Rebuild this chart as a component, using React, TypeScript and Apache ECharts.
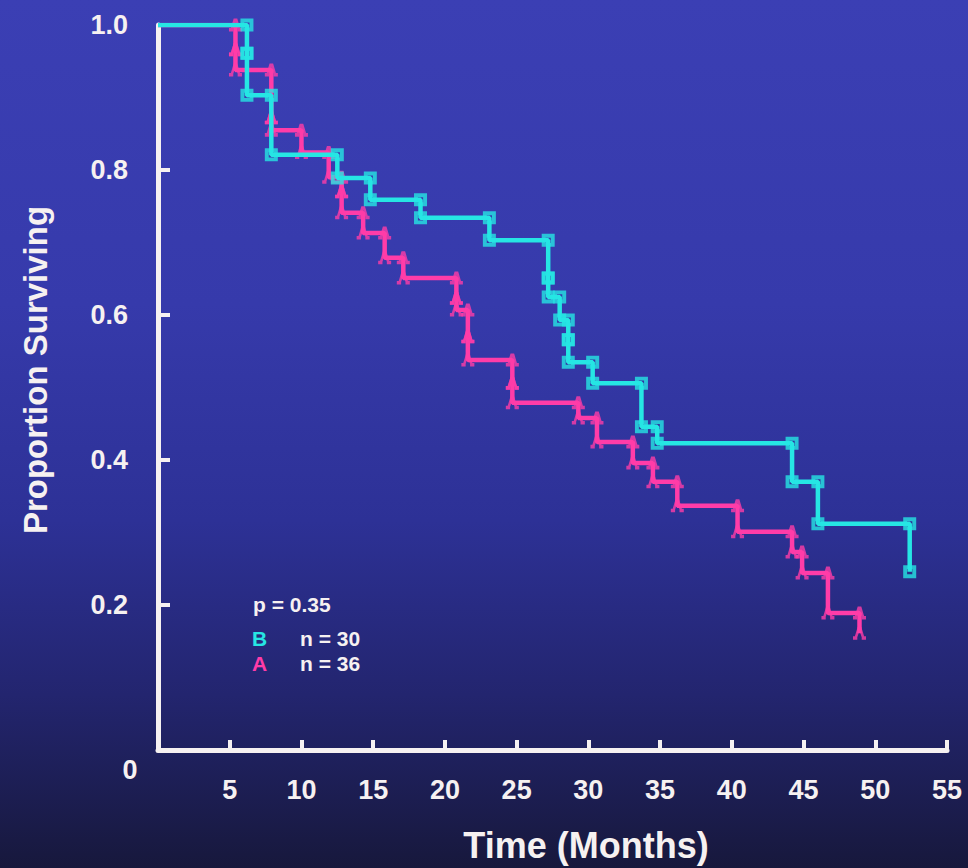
import React, { useEffect, useRef } from "react";
import * as echarts from "echarts";

// ---- data ----
const xTickValues = [0, 5, 10, 15, 20, 25, 30, 35, 40, 45, 50, 55];
const yTickValues = [0, 0.2, 0.4, 0.6, 0.8, 1.0];

// Group B (cyan, n = 30): event times (months) and survival after each event
const groupBTimes = [6.2, 6.2, 7.9, 12.5, 14.8, 18.3, 23.1, 27.2, 27.2, 28.0, 28.6, 28.6, 30.3, 33.7, 34.8, 44.2, 46.0, 52.4];
const groupBSurv = [0.961, 0.903, 0.821, 0.789, 0.759, 0.734, 0.703, 0.651, 0.625, 0.593, 0.566, 0.535, 0.506, 0.446, 0.423, 0.37, 0.312, 0.246];

// Group A (magenta, n = 36)
const groupATimes = [5.4, 5.4, 7.9, 7.9, 10.0, 11.9, 12.8, 12.8, 14.3, 15.8, 17.1, 20.8, 20.8, 21.6, 21.6, 24.7, 24.7, 29.3, 30.6, 33.1, 34.5, 36.2, 40.4, 44.2, 44.9, 46.7, 48.9];
const groupASurv = [0.966, 0.938, 0.872, 0.855, 0.824, 0.79, 0.77, 0.741, 0.713, 0.679, 0.651, 0.623, 0.607, 0.57, 0.538, 0.506, 0.479, 0.458, 0.425, 0.396, 0.37, 0.337, 0.301, 0.273, 0.244, 0.189, 0.161];

const groupNames = ["B", "A"];
const groupN = [30, 36];
const pValue = "0.35";

const CYAN = "#26e6e4";
const MAGENTA = "#ff3ca8";
const WHITE = "#f6f1f1";
const FONT = "'Liberation Sans', Arial, Helvetica, sans-serif";

const SQUARE = "path://M0,0L12,0L12,12L0,12Z M3.6,3.6L3.6,8.4L8.4,8.4L8.4,3.6Z";
const LAMBDA = "path://M4.2,0L7.8,0L10.6,8L12.5,8L12.5,11L8.2,11L8.2,8.8L6,3.4L3.8,8.8L3.8,11L-0.5,11L-0.5,8L1.4,8Z";

function stepLine(times: number[], surv: number[]) {
  const pts: number[][] = [[0, 1]];
  times.forEach((t, i) => pts.push([t, surv[i]]));
  return pts;
}

function markers(times: number[], surv: number[]) {
  const pts: number[][] = [];
  times.forEach((t, i) => {
    const prev = i === 0 ? 1 : surv[i - 1];
    pts.push([t, prev]);
    pts.push([t, surv[i]]);
  });
  return pts;
}

export default function App() {
  const ref = useRef<HTMLDivElement>(null);

  useEffect(() => {
    if (!ref.current) return;
    const chart = echarts.init(ref.current, null, { renderer: "svg" });
    const labelStyle = { color: WHITE, fontSize: 27, fontWeight: "bold" as const, fontFamily: FONT };
    const legendFont = `bold 21px ${FONT}`;
    chart.setOption({
      animation: false,
      backgroundColor: "transparent",
      grid: { left: 158, right: 21, top: 25, bottom: 118, containLabel: false },
      xAxis: {
        type: "value",
        min: xTickValues[0],
        max: xTickValues[xTickValues.length - 1],
        interval: 5,
        axisLine: { show: true, lineStyle: { color: WHITE, width: 5 } },
        axisTick: { show: true, inside: true, length: 10, lineStyle: { color: WHITE, width: 4 } },
        axisLabel: { ...labelStyle, margin: 26, formatter: (v: number) => (v === 0 ? "" : String(v)) },
        splitLine: { show: false },
      },
      yAxis: {
        type: "value",
        min: yTickValues[0],
        max: yTickValues[yTickValues.length - 1],
        interval: 0.2,
        axisLine: { show: true, lineStyle: { color: WHITE, width: 5 } },
        axisTick: { show: true, inside: true, length: 12, lineStyle: { color: WHITE, width: 4 } },
        axisLabel: { ...labelStyle, margin: 30, formatter: (v: number) => (v === 0 ? "" : v.toFixed(1)) },
        splitLine: { show: false },
      },
      series: [
        {
          name: "A",
          type: "line",
          step: "end",
          data: stepLine(groupATimes, groupASurv),
          symbol: "none",
          lineStyle: { color: MAGENTA, width: 4.5 },
          z: 2,
        },
        {
          name: "A markers",
          type: "scatter",
          data: markers(groupATimes, groupASurv),
          symbol: LAMBDA,
          symbolSize: [13, 13],
          itemStyle: { color: MAGENTA },
          z: 3,
        },
        {
          name: "B",
          type: "line",
          step: "end",
          data: stepLine(groupBTimes, groupBSurv),
          symbol: "none",
          lineStyle: { color: CYAN, width: 4.5 },
          z: 4,
        },
        {
          name: "B markers",
          type: "scatter",
          data: markers(groupBTimes, groupBSurv),
          symbol: SQUARE,
          symbolSize: [13, 13],
          itemStyle: { color: CYAN },
          z: 5,
        },
      ],
      graphic: [
        {
          type: "text",
          x: 35,
          y: 370,
          rotation: Math.PI / 2,
          style: { text: "Proportion Surviving", fill: WHITE, font: `bold 33px ${FONT}`, align: "center", verticalAlign: "middle" },
        },
        {
          type: "text",
          x: 586,
          y: 845,
          style: { text: "Time (Months)", fill: WHITE, font: `bold 36px ${FONT}`, align: "center", verticalAlign: "middle" },
        },
        {
          type: "text",
          x: 130,
          y: 770,
          style: { text: "0", fill: WHITE, font: `bold 27px ${FONT}`, align: "center", verticalAlign: "middle" },
        },
        {
          type: "text",
          x: 253,
          y: 604,
          style: { text: `p = ${pValue}`, fill: WHITE, font: legendFont, align: "left", verticalAlign: "middle" },
        },
        {
          type: "text",
          x: 252,
          y: 638,
          style: { text: groupNames[0], fill: CYAN, font: legendFont, align: "left", verticalAlign: "middle" },
        },
        {
          type: "text",
          x: 300,
          y: 638,
          style: { text: `n = ${groupN[0]}`, fill: WHITE, font: legendFont, align: "left", verticalAlign: "middle" },
        },
        {
          type: "text",
          x: 252,
          y: 663,
          style: { text: groupNames[1], fill: MAGENTA, font: legendFont, align: "left", verticalAlign: "middle" },
        },
        {
          type: "text",
          x: 300,
          y: 663,
          style: { text: `n = ${groupN[1]}`, fill: WHITE, font: legendFont, align: "left", verticalAlign: "middle" },
        },
      ],
    });
    return () => chart.dispose();
  }, []);

  return (
    <div
      ref={ref}
      style={{
        position: "fixed",
        left: 0,
        top: 0,
        width: 968,
        height: 868,
        background:
          "linear-gradient(180deg, #3b3fb4 0%, #363aab 35%, #2d3196 60%, #23256f 80%, #17183c 100%)",
      }}
    />
  );
}
